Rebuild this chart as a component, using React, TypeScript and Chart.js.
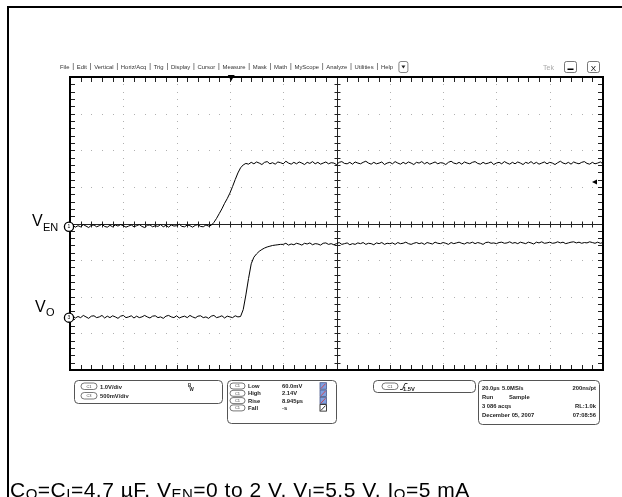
import { useEffect, useRef } from "react";
import { Chart, registerables } from "chart.js";

Chart.register(...registerables);

// ---- Acquisition data (screen divisions, 1 µs per sample) ----
const SAMPLE_US = 1;
const VEN_DIV = [
  -0.07, -0.04, -0.1, -0.06, -0.09, -0.03, -0.07, -0.11, -0.05, -0.04,
  -0.09, -0.06, -0.02, -0.08, -0.1, -0.05, -0.09, -0.04, -0.07, -0.03,
  -0.06, -0.1, -0.07, -0.04, -0.09, -0.06, -0.03, -0.08, -0.11, -0.05,
  -0.04, -0.09, -0.06, -0.08, -0.03, -0.09, -0.05, -0.1, -0.04, -0.07,
  -0.06, -0.02, -0.08, -0.09, -0.04, -0.06, -0.1, -0.05, -0.03, -0.08,
  -0.09, -0.04, -0.07,
  -0.05, 0.03, 0.14, 0.27, 0.4, 0.55, 0.68, 0.83, 1.01, 1.2, 1.38, 1.52, 1.6, 1.64, 1.62, 1.67,
  1.63, 1.68, 1.65, 1.61, 1.67, 1.69, 1.63, 1.66, 1.62, 1.68,
  1.66, 1.63, 1.7, 1.65, 1.62, 1.67, 1.63, 1.68, 1.65, 1.61,
  1.67, 1.64, 1.69, 1.63, 1.67, 1.62, 1.65, 1.68, 1.63, 1.66,
  1.65, 1.61, 1.67, 1.69, 1.64, 1.63, 1.67, 1.62, 1.68, 1.65,
  1.63, 1.67, 1.7, 1.65, 1.62, 1.67, 1.63, 1.65, 1.68, 1.61,
  1.65, 1.67, 1.63, 1.69, 1.65, 1.62, 1.67, 1.63, 1.68, 1.65,
  1.61, 1.67, 1.65, 1.69, 1.63, 1.67, 1.62, 1.65, 1.68, 1.63,
  1.66, 1.65, 1.61, 1.67, 1.7, 1.65, 1.63, 1.67, 1.62, 1.68,
  1.65, 1.63, 1.67, 1.69, 1.64, 1.62, 1.67, 1.63, 1.65, 1.68,
  1.61, 1.65, 1.67, 1.63, 1.69, 1.65, 1.62, 1.67, 1.63, 1.68,
  1.65, 1.61, 1.67, 1.64, 1.69, 1.63, 1.67, 1.62, 1.65, 1.68,
  1.63, 1.67, 1.65, 1.61, 1.66, 1.7, 1.65, 1.63, 1.67, 1.62,
  1.68, 1.65, 1.63, 1.67, 1.69, 1.64, 1.62, 1.67, 1.63, 1.65,
  1.68, 1.63,
];
const VO_DIV = [
  -2.55, -2.52, -2.58, -2.54, -2.57, -2.51, -2.55, -2.59, -2.53, -2.52,
  -2.57, -2.55, -2.51, -2.58, -2.53, -2.57, -2.52, -2.55, -2.59, -2.53,
  -2.51, -2.57, -2.55, -2.52, -2.58, -2.53, -2.57, -2.55, -2.51, -2.55,
  -2.58, -2.53, -2.52, -2.57, -2.55, -2.59, -2.53, -2.51, -2.55, -2.57,
  -2.52, -2.58, -2.55, -2.53, -2.57, -2.51, -2.55, -2.58, -2.53, -2.52,
  -2.57, -2.55, -2.59, -2.53, -2.51, -2.57, -2.55, -2.52, -2.58, -2.53,
  -2.55, -2.57, -2.52, -2.55, -2.54,
  -2.35, -1.95, -1.5, -1.1, -0.92, -0.83, -0.76, -0.71, -0.67, -0.64, -0.62, -0.6, -0.59, -0.58, -0.57,
  -0.57, -0.54, -0.59, -0.56, -0.58, -0.54, -0.56, -0.59, -0.54, -0.56,
  -0.53, -0.58, -0.55, -0.56, -0.59, -0.54, -0.53, -0.57, -0.55, -0.58,
  -0.55, -0.52, -0.57, -0.55, -0.53, -0.58, -0.55, -0.57, -0.53, -0.55,
  -0.52, -0.57, -0.54, -0.55, -0.58, -0.53, -0.55, -0.52, -0.57, -0.54,
  -0.55, -0.53, -0.57, -0.52, -0.55, -0.54, -0.51, -0.55, -0.57, -0.54,
  -0.52, -0.55, -0.53, -0.57, -0.52, -0.54, -0.56, -0.51, -0.54, -0.55,
  -0.52, -0.54, -0.57, -0.52, -0.55, -0.53, -0.51, -0.54, -0.56, -0.52,
  -0.54, -0.51, -0.55, -0.52, -0.54, -0.57, -0.52, -0.51, -0.54, -0.53,
  -0.55, -0.52, -0.51, -0.54, -0.53, -0.5, -0.54, -0.52, -0.55, -0.51,
  -0.53, -0.55, -0.51, -0.53, -0.56, -0.51, -0.53, -0.5, -0.54, -0.53,
  -0.51, -0.54, -0.53, -0.5, -0.53, -0.51, -0.55, -0.53, -0.51, -0.5,
  -0.53, -0.51, -0.54, -0.52, -0.53, -0.5, -0.52, -0.54, -0.51, -0.54,
  -0.52,
];
const TIME_US = VEN_DIV.map((_, i) => i * SAMPLE_US);

// ---- Screen layout in scope units ----
const X_MAX_US = 200;
const X_DIVS = 10;
const Y_DIVS = 8;
const MINOR = 5;
const VEN_MARK_DIV = -0.09;
const VO_MARK_DIV = -2.57;
const TRIG_POS_US = 60.5;
const TRIG_LEVEL_DIV = 1.13;

// ---- Texts ----
const MENU_ITEMS = ["File", "Edit", "Vertical", "Horiz/Acq", "Trig", "Display", "Cursor", "Measure", "Mask", "Math", "MyScope", "Analyze", "Utilities", "Help"];
const CH_SCALES = [["C1", "1.0V/div"], ["C3", "500mV/div"]];
const MEAS_LABELS = ["Low", "High", "Rise", "Fall"];
const MEAS_VALUES = ["60.0mV", "2.14V", "8.945µs", "-s"];
const TRIG_TEXT = "1.5V";
const ACQ_LEFT = [["20.0µs", "5.0MS/s"], ["Run", "Sample"], ["3 086 acqs", ""], ["December 05, 2007", ""]];
const ACQ_RIGHT = ["200ns/pt", "", "RL:1.0k", "07:08:56"];
const CAPTION: [string, boolean][] = [
  ["C", false], ["O", true], ["=C", false], ["I", true], ["=4.7 µF, V", false], ["EN", true],
  ["=0 to 2 V, V", false], ["I", true], ["=5.5 V, I", false], ["O", true], ["=5 mA", false],
];

const FONT = '"Liberation Sans", Arial, sans-serif';

function pill(ctx: CanvasRenderingContext2D, x: number, y: number, w: number, h: number, label: string) {
  ctx.beginPath();
  ctx.roundRect(x, y, w, h, h / 2);
  ctx.fillStyle = "#fff";
  ctx.fill();
  ctx.strokeStyle = "#555";
  ctx.lineWidth = 0.8;
  ctx.stroke();
  ctx.fillStyle = "#444";
  ctx.font = `4px ${FONT}`;
  ctx.textAlign = "center";
  ctx.textBaseline = "middle";
  ctx.fillText(label, x + w / 2, y + h / 2 + 0.3);
}

function box(ctx: CanvasRenderingContext2D, x: number, y: number, w: number, h: number) {
  ctx.beginPath();
  ctx.roundRect(x + 0.5, y + 0.5, w, h, 4);
  ctx.strokeStyle = "#555";
  ctx.lineWidth = 1;
  ctx.stroke();
}

const scopePlugin = {
  id: "scope",
  beforeDatasetsDraw(chart: any) {
    const { ctx, chartArea: a, scales } = chart;
    const xs = scales.x, ys = scales.y;
    const px = (t: number) => xs.getPixelForValue(t);
    const py = (d: number) => ys.getPixelForValue(d);
    const dx = X_MAX_US / X_DIVS;
    ctx.save();
    ctx.fillStyle = "#fff";
    ctx.fillRect(a.left, a.top, a.right - a.left, a.bottom - a.top);
    // dotted graticule
    ctx.fillStyle = "#b0b0b0";
    for (let i = 1; i < X_DIVS; i++) {
      if (i === X_DIVS / 2) continue;
      const x = Math.round(px(i * dx));
      for (let j = 0; j <= Y_DIVS * MINOR; j++) {
        const y = Math.round(py(-Y_DIVS / 2 + j / MINOR));
        ctx.fillRect(x, y, 1, 1);
      }
    }
    for (let j = 1; j < Y_DIVS; j++) {
      if (j === Y_DIVS / 2) continue;
      const y = Math.round(py(-Y_DIVS / 2 + j));
      for (let i = 0; i <= X_DIVS * MINOR; i++) {
        const x = Math.round(px((i * dx) / MINOR));
        ctx.fillRect(x, y, 1, 1);
      }
    }
    // center cross with ticks
    ctx.strokeStyle = "#222";
    ctx.lineWidth = 1;
    const cx = Math.round(px(X_MAX_US / 2)) + 0.5;
    const cy = Math.round(py(0)) + 0.5;
    ctx.beginPath();
    ctx.moveTo(a.left, cy); ctx.lineTo(a.right, cy);
    ctx.moveTo(cx, a.top); ctx.lineTo(cx, a.bottom);
    for (let i = 0; i <= X_DIVS * MINOR; i++) {
      const x = Math.round(px((i * dx) / MINOR)) + 0.5;
      ctx.moveTo(x, cy - 3); ctx.lineTo(x, cy + 3);
      ctx.moveTo(x, a.top); ctx.lineTo(x, a.top + 5);
      ctx.moveTo(x, a.bottom); ctx.lineTo(x, a.bottom - 5);
    }
    for (let j = 0; j <= Y_DIVS * MINOR; j++) {
      const y = Math.round(py(-Y_DIVS / 2 + j / MINOR)) + 0.5;
      ctx.moveTo(cx - 3, y); ctx.lineTo(cx + 3, y);
      ctx.moveTo(a.left, y); ctx.lineTo(a.left + 5, y);
      ctx.moveTo(a.right, y); ctx.lineTo(a.right - 5, y);
    }
    ctx.stroke();
    ctx.restore();
  },
  afterDraw(chart: any) {
    const { ctx, chartArea: a, scales } = chart;
    const xs = scales.x, ys = scales.y;
    ctx.save();
    // screen border
    ctx.strokeStyle = "#000";
    ctx.lineWidth = 2;
    ctx.strokeRect(a.left, a.top, a.right - a.left, a.bottom - a.top);

    // trigger position & level markers
    const tx = xs.getPixelForValue(TRIG_POS_US);
    ctx.fillStyle = "#000";
    ctx.beginPath();
    ctx.moveTo(tx - 3.5, a.top - 2); ctx.lineTo(tx + 3.5, a.top - 2); ctx.lineTo(tx, a.top + 4); ctx.closePath();
    ctx.fill();
    const ty = ys.getPixelForValue(TRIG_LEVEL_DIV);
    ctx.beginPath();
    ctx.moveTo(a.right - 11, ty); ctx.lineTo(a.right - 6, ty - 2.5); ctx.lineTo(a.right - 6, ty + 2.5); ctx.closePath();
    ctx.fill();

    // channel ground markers
    const marks: [number, string][] = [[VEN_MARK_DIV, "1"], [VO_MARK_DIV, "3"]];
    for (const [d, n] of marks) {
      const y = ys.getPixelForValue(d);
      ctx.beginPath();
      ctx.arc(a.left - 1, y, 4.6, 0, Math.PI * 2);
      ctx.fillStyle = "#fff";
      ctx.fill();
      ctx.lineWidth = 1.3;
      ctx.strokeStyle = "#000";
      ctx.stroke();
      ctx.fillStyle = "#000";
      ctx.font = `5px ${FONT}`;
      ctx.textAlign = "center";
      ctx.textBaseline = "middle";
      ctx.fillText(n, a.left - 1, y + 0.3);
    }

    // channel labels
    ctx.fillStyle = "#000";
    ctx.textAlign = "left";
    ctx.textBaseline = "alphabetic";
    const ly1 = ys.getPixelForValue(VEN_MARK_DIV);
    ctx.font = `16px ${FONT}`;
    ctx.fillText("V", 32, ly1 - 1);
    ctx.font = `11px ${FONT}`;
    ctx.fillText("EN", 43, ly1 + 4);
    const ly3 = ys.getPixelForValue(VO_MARK_DIV);
    ctx.font = `16px ${FONT}`;
    ctx.fillText("V", 35, ly3 - 6);
    ctx.font = `11px ${FONT}`;
    ctx.fillText("O", 46, ly3 - 2);

    // menu bar
    ctx.fillStyle = "#333";
    ctx.font = `5.9px ${FONT}`;
    let mx = 60;
    MENU_ITEMS.forEach((m, i) => {
      ctx.fillText(m, mx, 68.5);
      mx += ctx.measureText(m).width + 3.4;
      if (i < MENU_ITEMS.length - 1) {
        ctx.fillRect(mx, 63, 0.6, 7);
        mx += 3.9;
      }
    });
    ctx.strokeStyle = "#666";
    ctx.lineWidth = 0.8;
    ctx.beginPath();
    ctx.roundRect(mx + 2.5, 61.5, 9, 11, 2);
    ctx.stroke();
    ctx.fillStyle = "#222";
    ctx.beginPath();
    ctx.moveTo(mx + 5, 65.5); ctx.lineTo(mx + 9, 65.5); ctx.lineTo(mx + 7, 68.5); ctx.closePath();
    ctx.fill();
    // Tek + window buttons
    ctx.fillStyle = "#aaa";
    ctx.font = `7px ${FONT}`;
    ctx.fillText("Tek", 543, 69.5);
    ctx.strokeStyle = "#555";
    ctx.beginPath();
    ctx.roundRect(564.5, 61.5, 12, 11, 2);
    ctx.roundRect(587.5, 61.5, 12, 11, 2);
    ctx.stroke();
    ctx.fillStyle = "#000";
    ctx.fillRect(567.5, 68.5, 6, 1.5);
    ctx.font = `8px ${FONT}`;
    ctx.textAlign = "center";
    ctx.fillText("X", 593.5, 70.5);
    ctx.textAlign = "left";

    // readout boxes
    const RF = `bold 5.8px ${FONT}`;
    box(ctx, 74, 380, 148, 23);
    CH_SCALES.forEach(([c, s], i) => {
      const y = 383 + i * 9.5;
      pill(ctx, 81, y, 16, 6.5, c);
      ctx.fillStyle = "#222";
      ctx.font = RF;
      ctx.textAlign = "left";
      ctx.textBaseline = "alphabetic";
      ctx.fillText(s, 100, y + 5.5);
    });
    ctx.font = `bold 4.5px ${FONT}`;
    ctx.fillText("B", 188, 387);
    ctx.fillText("W", 189.5, 390.5);

    box(ctx, 227, 380, 109, 43);
    MEAS_LABELS.forEach((l, i) => {
      const y = 383 + i * 7.3;
      pill(ctx, 230, y, 15, 6, "C1");
      ctx.fillStyle = "#222";
      ctx.font = RF;
      ctx.textAlign = "left";
      ctx.textBaseline = "alphabetic";
      ctx.fillText(l, 248, y + 5);
      ctx.fillText(MEAS_VALUES[i], 282, y + 5);
      const last = i === MEAS_LABELS.length - 1;
      ctx.fillStyle = last ? "#fff" : "#7f9fe0";
      ctx.fillRect(320, y - 0.3, 6.5, 6.5);
      ctx.strokeStyle = last ? "#111" : "#4a5a8a";
      ctx.lineWidth = 0.8;
      ctx.strokeRect(320, y - 0.3, 6.5, 6.5);
      ctx.beginPath();
      ctx.moveTo(321, y + 5.5); ctx.lineTo(325.5, y + 0.7);
      ctx.strokeStyle = last ? "#000" : "#d33";
      ctx.stroke();
    });

    box(ctx, 373, 380, 102, 12);
    pill(ctx, 382, 383, 16, 6.5, "C1");
    ctx.strokeStyle = "#222";
    ctx.lineWidth = 0.9;
    ctx.beginPath();
    ctx.moveTo(400, 389.5); ctx.lineTo(402.5, 389.5); ctx.lineTo(405, 383.5); ctx.lineTo(407.5, 383.5);
    ctx.stroke();
    ctx.fillStyle = "#222";
    ctx.font = RF;
    ctx.fillText(TRIG_TEXT, 409, 389);

    box(ctx, 478, 380, 121, 44);
    ACQ_LEFT.forEach(([l1, l2], i) => {
      const y = 388 + i * 9;
      ctx.textAlign = "left";
      ctx.fillText(l1, 482, y);
      if (l2) ctx.fillText(l2, i === 0 ? 502 : 509, y);
      ctx.textAlign = "right";
      if (ACQ_RIGHT[i]) ctx.fillText(ACQ_RIGHT[i], 596, y);
    });
    ctx.textAlign = "left";

    // outer figure frame
    ctx.fillStyle = "#000";
    ctx.fillRect(7, 6, 2, 491);
    ctx.fillRect(7, 6, 615, 2);

    // caption
    let cxp = 10;
    (ctx as any).letterSpacing = "0.5px";
    for (const [txt, sub] of CAPTION) {
      ctx.font = sub ? `15px ${FONT}` : `21px ${FONT}`;
      ctx.fillStyle = "#000";
      ctx.fillText(txt, cxp, sub ? 495 : 491);
      cxp += ctx.measureText(txt).width;
    }
    (ctx as any).letterSpacing = "0px";
    ctx.restore();
  },
};

export default function App() {
  const ref = useRef<HTMLCanvasElement>(null);
  useEffect(() => {
    if (!ref.current) return;
    const chart = new Chart(ref.current, {
      type: "line",
      data: {
        datasets: [
          { label: "VEN", data: TIME_US.map((t, i) => ({ x: t, y: VEN_DIV[i] })), borderColor: "#000", borderWidth: 1 },
          { label: "VO", data: TIME_US.map((t, i) => ({ x: t, y: VO_DIV[i] })), borderColor: "#000", borderWidth: 1 },
        ],
      },
      options: {
        responsive: false,
        animation: false,
        devicePixelRatio: 1,
        layout: { padding: { left: 70, top: 77, right: 19, bottom: 127 } },
        elements: { point: { radius: 0 }, line: { tension: 0 } },
        scales: {
          x: { type: "linear", min: 0, max: X_MAX_US, display: false },
          y: { type: "linear", min: -Y_DIVS / 2, max: Y_DIVS / 2, display: false },
        },
        plugins: { legend: { display: false }, tooltip: { enabled: false } },
      },
      plugins: [scopePlugin],
    } as any);
    return () => chart.destroy();
  }, []);
  return (
    <div style={{ position: "absolute", left: 0, top: 0, width: 622, height: 497, background: "#fff" }}>
      <canvas ref={ref} width={622} height={497} style={{ display: "block" }} />
    </div>
  );
}
